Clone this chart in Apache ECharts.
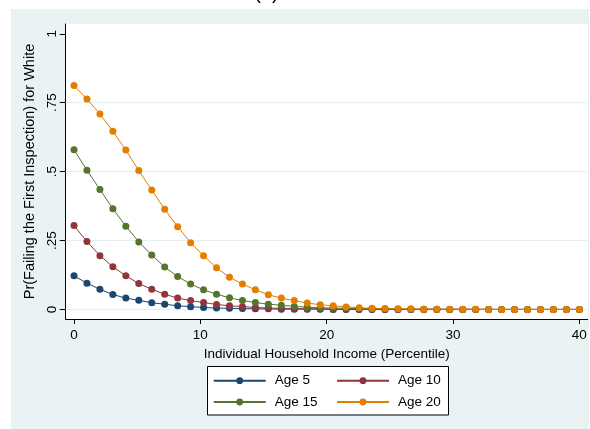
<!DOCTYPE html>
<html><head><meta charset="utf-8">
<script src="https://cdn.jsdelivr.net/npm/echarts@6/dist/echarts.min.js"></script>
<style>html,body{margin:0;padding:0;background:#fff}#c{width:590px;height:429px}</style>
</head><body><div id="c"></div>
<script>
const percentile = [0,1.0256,2.0513,3.0769,4.1026,5.1282,6.1538,7.1795,8.2051,9.2308,
  10.2564,11.2821,12.3077,13.3333,14.359,15.3846,16.4103,17.4359,18.4615,19.4872,
  20.5128,21.5385,22.5641,23.5897,24.6154,25.641,26.6667,27.6923,28.7179,29.7436,
  30.7692,31.7949,32.8205,33.8462,34.8718,35.8974,36.9231,37.9487,38.9744,40];
const age5 = [0.122,0.095,0.073,0.054,0.041,0.033,0.024,0.019,0.013,0.010,
  0.007,0.005,0.004,0.003,0.002,0.002,0.001,0.001,0.001,0.001,
  0,0,0,0,0,0,0,0,0,0, 0,0,0,0,0,0,0,0,0,0];
const age10 = [0.304,0.246,0.195,0.155,0.122,0.094,0.073,0.055,0.041,0.032,
  0.025,0.018,0.013,0.010,0.007,0.005,0.004,0.003,0.002,0.002,
  0.001,0.001,0.001,0.001,0,0,0,0,0,0, 0,0,0,0,0,0,0,0,0,0];
const age15 = [0.579,0.505,0.435,0.365,0.302,0.245,0.197,0.154,0.119,0.092,
  0.071,0.055,0.042,0.032,0.025,0.019,0.015,0.011,0.008,0.006,
  0.005,0.004,0.003,0.002,0.002,0.001,0.001,0.001,0.001,0, 0,0,0,0,0,0,0,0,0,0];
const age20 = [0.812,0.763,0.709,0.646,0.578,0.504,0.433,0.363,0.300,0.242,
  0.195,0.151,0.117,0.092,0.071,0.053,0.041,0.032,0.023,0.017,
  0.013,0.009,0.006,0.004,0.003,0.002,0.002,0.001,0.001,0.001,
  0.001,0.001,0,0,0,0,0,0,0,0];
const seriesNames = ['Age 5','Age 10','Age 15','Age 20'];
const seriesValues = [age5, age10, age15, age20];
const xTicks = [0,10,20,30,40];
const yTicks = [0,0.25,0.5,0.75,1];
const yTickLabels = ['0','.25','.5','.75','1'];
const yGrid = [0,0.25,0.5,0.75];
const xTitle = 'Individual Household Income (Percentile)';
const yTitle = 'Pr(Failing the First Inspection) for White';
const panelTitle = '(a)';

const colors = ['#1A476F','#90353B','#55752F','#E37E00'];
const FONT = 'Liberation Sans, Arial, Helvetica, sans-serif';
const chart = echarts.init(document.getElementById('c'), null, {renderer:'canvas'});

const series = seriesNames.map((n,k)=>({
  name:n, type:'line', data: percentile.map((x,i)=>[x, seriesValues[k][i]]),
  symbol:'circle', symbolSize:7, showSymbol:true, showAllSymbol:true,
  lineStyle:{color:colors[k], width:1}, itemStyle:{color:colors[k]},
  emphasis:{disabled:true}, silent:true, animation:false, z: 3
}));
series[0].markLine = {
  silent:true, symbol:['none','none'], animation:false, z:1,
  label:{show:false}, lineStyle:{color:'#E6EEF0', width:1, type:'solid'},
  emphasis:{disabled:true},
  data: yGrid.map(v=>({yAxis:v}))
};

const legendCommon = {
  orient:'vertical', itemWidth:52, itemHeight:8.5, itemGap:7.3, padding:0,
  selectedMode:false,
  textStyle:{fontFamily:FONT, fontSize:13.5, color:'#000', lineHeight:14, padding:[0,0,0,4]}
};

chart.setOption({
  animation:false,
  color: colors,
  graphic:[
    {type:'rect', z:-10, shape:{x:11,y:9,width:578,height:420}, style:{fill:'#EAF2F3'}},
    {type:'rect', z:-5, shape:{x:207.5,y:366.5,width:241,height:48.5}, style:{fill:'#fff', stroke:'#000', lineWidth:1}},
    {type:'text', z:5, x:266.5, y:3.5, style:{text:panelTitle, font:'20px '+FONT, fill:'#000', textAlign:'center', textVerticalAlign:'bottom'}}
  ],
  grid:{left:65.7, right:2.3, top:24, bottom:110, show:true, backgroundColor:'#fff', borderWidth:0, containLabel:false},
  xAxis:{
    type:'value', min:-0.657, max:40.66,
    axisLine:{show:true, onZero:false, lineStyle:{color:'#000', width:1}},
    axisTick:{show:true, customValues:xTicks, length:5, lineStyle:{color:'#000', width:1}},
    axisLabel:{customValues:xTicks, margin:9, fontSize:13.5, color:'#000', fontFamily:FONT},
    splitLine:{show:false},
    name:xTitle, nameLocation:'middle', nameGap:26,
    nameTextStyle:{fontFamily:FONT, fontSize:13.5, color:'#000'}
  },
  yAxis:{
    type:'value', min:-0.0348, max:1.0355,
    axisLine:{show:true, onZero:false, lineStyle:{color:'#000', width:1}},
    axisTick:{show:true, customValues:yTicks, length:6, lineStyle:{color:'#000', width:1}},
    axisLabel:{customValues:yTicks, margin:6, rotate:90, fontSize:13.5, color:'#000', fontFamily:FONT,
      formatter:(v)=>{const i=yTicks.findIndex(t=>Math.abs(t-v)<1e-9); return i>=0?yTickLabels[i]:'';}},
    splitLine:{show:false},
    name:yTitle, nameLocation:'middle', nameGap:26, nameRotate:90,
    nameTextStyle:{fontFamily:FONT, fontSize:14.5, color:'#000'}
  },
  legend:[
    Object.assign({}, legendCommon, {left:212.7, top:373.7, data:['Age 5','Age 15']}),
    Object.assign({}, legendCommon, {left:336, top:373.7, data:['Age 10','Age 20']})
  ],
  series: series
});
</script></body></html>
